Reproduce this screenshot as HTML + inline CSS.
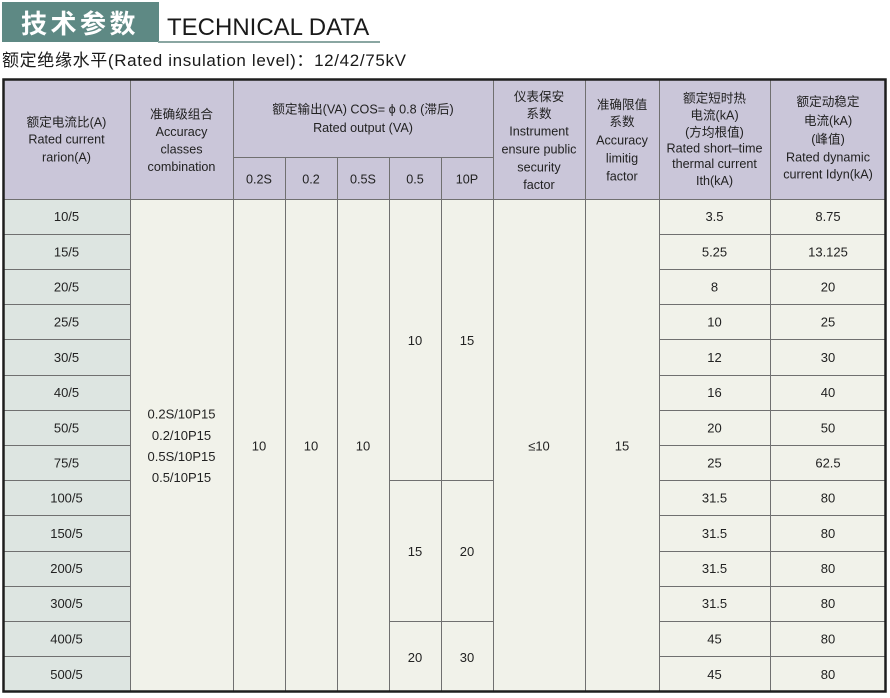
<!DOCTYPE html>
<html>
<head>
<meta charset="utf-8">
<style>
  html,body{margin:0;padding:0;background:#fff;}
  svg{display:block;}
  .h{font-family:"Liberation Sans","Noto Sans CJK SC",sans-serif;font-size:12.6px;fill:#222;}
  .b{font-family:"Liberation Sans","Noto Sans CJK SC",sans-serif;font-size:13px;fill:#222;}
</style>
</head>
<body>
<svg width="890" height="698" viewBox="0 0 890 698" xmlns="http://www.w3.org/2000/svg">
  <!-- Title -->
  <rect x="2" y="2" width="157" height="40" fill="#5e8984"/>
  <rect x="158" y="41" width="222" height="2" fill="#8aa6a2"/>
  <text x="21" y="33" font-family="'Noto Sans CJK SC',sans-serif" font-weight="bold" font-size="26" letter-spacing="3.5" fill="#fff">技术参数</text>
  <text x="167" y="35" font-family="'Liberation Sans',sans-serif" font-size="24" fill="#1a1a1a">TECHNICAL DATA</text>
  <text x="2" y="66" font-family="'Liberation Sans','Noto Sans CJK SC',sans-serif" font-size="17" letter-spacing="0.65" fill="#1a1a1a">额定绝缘水平(Rated insulation level)：12/42/75kV</text>

  <!-- backgrounds -->
  <rect x="3" y="79" width="883" height="120" fill="#cac6d9"/>
  <rect x="3" y="199" width="127" height="493" fill="#dde5e1"/>
  <rect x="130" y="199" width="756" height="493" fill="#f1f2ea"/>

  <!-- grid lines -->
  <g stroke="#707070" stroke-width="1" shape-rendering="crispEdges">
    <line x1="130.5" y1="79" x2="130.5" y2="692"/>
    <line x1="233.5" y1="79" x2="233.5" y2="692"/>
    <line x1="493.5" y1="79" x2="493.5" y2="692"/>
    <line x1="585.5" y1="79" x2="585.5" y2="692"/>
    <line x1="659.5" y1="79" x2="659.5" y2="692"/>
    <line x1="770.5" y1="79" x2="770.5" y2="692"/>
    <line x1="285.5" y1="157" x2="285.5" y2="692"/>
    <line x1="337.5" y1="157" x2="337.5" y2="692"/>
    <line x1="389.5" y1="157" x2="389.5" y2="692"/>
    <line x1="441.5" y1="157" x2="441.5" y2="692"/>
    <line x1="233" y1="157.5" x2="493" y2="157.5"/>
    <line x1="3" y1="199.5" x2="886" y2="199.5"/>
    <line x1="3" y1="234.5" x2="130" y2="234.5"/>
    <line x1="3" y1="269.5" x2="130" y2="269.5"/>
    <line x1="3" y1="304.5" x2="130" y2="304.5"/>
    <line x1="3" y1="339.5" x2="130" y2="339.5"/>
    <line x1="3" y1="375.5" x2="130" y2="375.5"/>
    <line x1="3" y1="410.5" x2="130" y2="410.5"/>
    <line x1="3" y1="445.5" x2="130" y2="445.5"/>
    <line x1="3" y1="480.5" x2="130" y2="480.5"/>
    <line x1="3" y1="515.5" x2="130" y2="515.5"/>
    <line x1="3" y1="551.5" x2="130" y2="551.5"/>
    <line x1="3" y1="586.5" x2="130" y2="586.5"/>
    <line x1="3" y1="621.5" x2="130" y2="621.5"/>
    <line x1="3" y1="656.5" x2="130" y2="656.5"/>
    <line x1="659" y1="234.5" x2="886" y2="234.5"/>
    <line x1="659" y1="269.5" x2="886" y2="269.5"/>
    <line x1="659" y1="304.5" x2="886" y2="304.5"/>
    <line x1="659" y1="339.5" x2="886" y2="339.5"/>
    <line x1="659" y1="375.5" x2="886" y2="375.5"/>
    <line x1="659" y1="410.5" x2="886" y2="410.5"/>
    <line x1="659" y1="445.5" x2="886" y2="445.5"/>
    <line x1="659" y1="480.5" x2="886" y2="480.5"/>
    <line x1="659" y1="515.5" x2="886" y2="515.5"/>
    <line x1="659" y1="551.5" x2="886" y2="551.5"/>
    <line x1="659" y1="586.5" x2="886" y2="586.5"/>
    <line x1="659" y1="621.5" x2="886" y2="621.5"/>
    <line x1="659" y1="656.5" x2="886" y2="656.5"/>
    <line x1="389" y1="480.5" x2="493" y2="480.5"/>
    <line x1="389" y1="621.5" x2="493" y2="621.5"/>
  </g>
  <!-- outer border -->
  <rect x="3.5" y="79.5" width="882" height="612" fill="none" stroke="#1e1e1e" stroke-width="2.5"/>

  <!-- header text -->
  <g class="h" text-anchor="middle">
    <text x="66.5" y="126.5">额定电流比(A)</text>
    <text x="66.5" y="143.5">Rated current</text>
    <text x="66.5" y="161.5">rarion(A)</text>

    <text x="181.5" y="118.5">准确级组合</text>
    <text x="181.5" y="136">Accuracy</text>
    <text x="181.5" y="153.5">classes</text>
    <text x="181.5" y="171">combination</text>

    <text x="363" y="113.5">额定输出(VA) COS= ϕ 0.8 (滞后)</text>
    <text x="363" y="132">Rated output (VA)</text>

    <text x="259" y="183.5">0.2S</text>
    <text x="311" y="183.5">0.2</text>
    <text x="363" y="183.5">0.5S</text>
    <text x="415" y="183.5">0.5</text>
    <text x="467" y="183.5">10P</text>

    <text x="539" y="101">仪表保安</text>
    <text x="539" y="118">系数</text>
    <text x="539" y="135.5">Instrument</text>
    <text x="539" y="153.5">ensure public</text>
    <text x="539" y="171.5">security</text>
    <text x="539" y="189">factor</text>

    <text x="622" y="109">准确限值</text>
    <text x="622" y="126">系数</text>
    <text x="622" y="144.5">Accuracy</text>
    <text x="622" y="162.5">limitig</text>
    <text x="622" y="180.5">factor</text>

    <text x="714.5" y="102.5">额定短时热</text>
    <text x="714.5" y="119.5">电流(kA)</text>
    <text x="714.5" y="136.5">(方均根值)</text>
    <text x="714.5" y="152.5">Rated short–time</text>
    <text x="714.5" y="168">thermal current</text>
    <text x="714.5" y="185">Ith(kA)</text>

    <text x="828" y="106">额定动稳定</text>
    <text x="828" y="125">电流(kA)</text>
    <text x="828" y="143.5">(峰值)</text>
    <text x="828" y="161.5">Rated dynamic</text>
    <text x="828" y="178.5">current Idyn(kA)</text>
  </g>

  <!-- body text -->
  <g class="b" text-anchor="middle">
    <text x="66.5" y="221">10/5</text>
    <text x="66.5" y="256.5">15/5</text>
    <text x="66.5" y="291.5">20/5</text>
    <text x="66.5" y="326.5">25/5</text>
    <text x="66.5" y="362">30/5</text>
    <text x="66.5" y="397">40/5</text>
    <text x="66.5" y="432.5">50/5</text>
    <text x="66.5" y="467.5">75/5</text>
    <text x="66.5" y="502.5">100/5</text>
    <text x="66.5" y="538">150/5</text>
    <text x="66.5" y="573">200/5</text>
    <text x="66.5" y="608">300/5</text>
    <text x="66.5" y="643.5">400/5</text>
    <text x="66.5" y="679">500/5</text>

    <text x="181.5" y="418.5">0.2S/10P15</text>
    <text x="181.5" y="440">0.2/10P15</text>
    <text x="181.5" y="461">0.5S/10P15</text>
    <text x="181.5" y="482">0.5/10P15</text>

    <text x="259" y="450.5">10</text>
    <text x="311" y="450.5">10</text>
    <text x="363" y="450.5">10</text>

    <text x="415" y="345">10</text>
    <text x="467" y="345">15</text>
    <text x="415" y="556">15</text>
    <text x="467" y="556">20</text>
    <text x="415" y="662">20</text>
    <text x="467" y="662">30</text>

    <text x="539" y="450.5">≤10</text>
    <text x="622" y="450.5">15</text>

    <text x="714.5" y="221">3.5</text>
    <text x="714.5" y="256.5">5.25</text>
    <text x="714.5" y="291.5">8</text>
    <text x="714.5" y="326.5">10</text>
    <text x="714.5" y="362">12</text>
    <text x="714.5" y="397">16</text>
    <text x="714.5" y="432.5">20</text>
    <text x="714.5" y="467.5">25</text>
    <text x="714.5" y="502.5">31.5</text>
    <text x="714.5" y="538">31.5</text>
    <text x="714.5" y="573">31.5</text>
    <text x="714.5" y="608">31.5</text>
    <text x="714.5" y="643.5">45</text>
    <text x="714.5" y="679">45</text>

    <text x="828" y="221">8.75</text>
    <text x="828" y="256.5">13.125</text>
    <text x="828" y="291.5">20</text>
    <text x="828" y="326.5">25</text>
    <text x="828" y="362">30</text>
    <text x="828" y="397">40</text>
    <text x="828" y="432.5">50</text>
    <text x="828" y="467.5">62.5</text>
    <text x="828" y="502.5">80</text>
    <text x="828" y="538">80</text>
    <text x="828" y="573">80</text>
    <text x="828" y="608">80</text>
    <text x="828" y="643.5">80</text>
    <text x="828" y="679">80</text>
  </g>
</svg>
</body>
</html>
